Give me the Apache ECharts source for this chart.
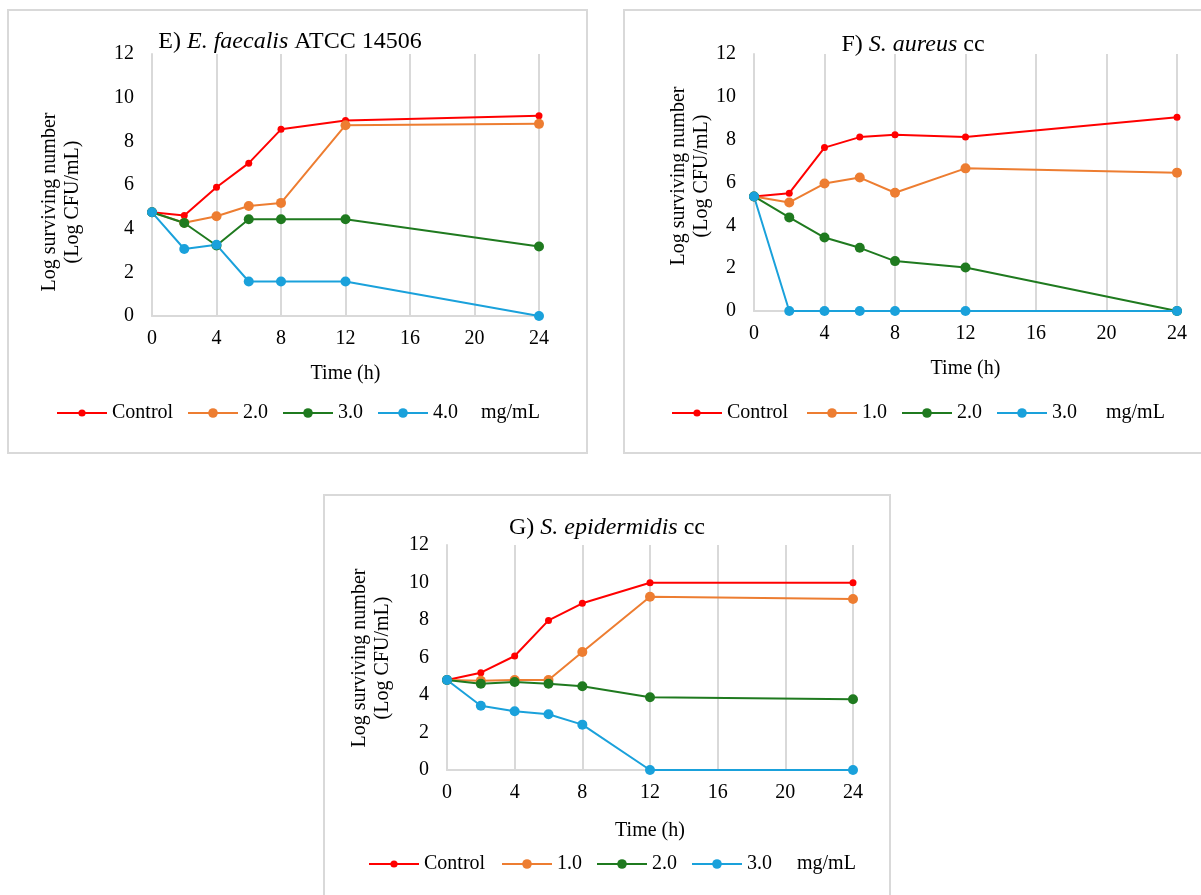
<!DOCTYPE html>
<html>
<head>
<meta charset="UTF-8">
<script src="https://cdn.jsdelivr.net/npm/echarts@6/dist/echarts.min.js"></script>
<style>
  html, body { margin: 0; padding: 0; background: #fff; }
  #main { width: 1201px; height: 895px; }
</style>
</head>
<body>
<div id="main"></div>
<script>
// sampling times (h), same for all panels
var times = [0, 2, 4, 6, 8, 12, 24];

// E) E. faecalis ATCC 14506
var eControl = [4.75, 4.6, 5.9, 7.0, 8.55, 8.95, 9.17];
var e20 = [4.75, 4.27, 4.57, 5.04, 5.18, 8.74, 8.8];
var e30 = [4.75, 4.26, 3.23, 4.43, 4.43, 4.43, 3.18];
var e40 = [4.75, 3.07, 3.26, 1.58, 1.58, 1.58, 0];

// F) S. aureus cc
var fControl = [5.35, 5.5, 7.63, 8.12, 8.23, 8.12, 9.05];
var f10 = [5.35, 5.07, 5.95, 6.23, 5.52, 6.66, 6.46];
var f20 = [5.35, 4.37, 3.43, 2.95, 2.33, 2.03, 0];
var f30 = [5.35, 0, 0, 0, 0, 0, 0];

// G) S. epidermidis cc
var gControl = [4.8, 5.19, 6.08, 7.98, 8.89, 9.99, 9.99];
var g10 = [4.8, 4.76, 4.8, 4.8, 6.29, 9.24, 9.12];
var g20 = [4.8, 4.6, 4.69, 4.6, 4.47, 3.88, 3.77];
var g30 = [4.8, 3.43, 3.13, 2.97, 2.42, 0, 0];

var RED = '#ff0000', ORANGE = '#ed7d31', GREEN = '#1f7a1f', BLUE = '#1aa1db';
var FONT = '"Liberation Serif", "Times New Roman", serif';
var GRAY = '#d9d9d9';
var FS = 20;

function pairs(vals) {
  return times.map(function (t, i) { return [t, vals[i]]; });
}

var panels = [
  {
    key: 'E',
    grid: { left: 152, top: 54, width: 387, height: 262 },
    box: [8, 10, 579, 443],
    title: { x: 290, y: 42, parts: ['E) ', 'E. faecalis', ' ATCC 14506'] },
    yname: [61, 202],
    nameGap: 48,
    legend: [56, 187, 403],
    unit: [481, 413],
    series: [['Control', eControl, RED], ['2.0', e20, ORANGE], ['3.0', e30, GREEN], ['4.0', e40, BLUE]]
  },
  {
    key: 'F',
    grid: { left: 754, top: 54, width: 423, height: 257 },
    box: [624, 10, 600, 443],
    title: { x: 913, y: 45, parts: ['F) ', 'S. aureus', ' cc'] },
    yname: [690, 176],
    nameGap: 48,
    legend: [671, 806, 403],
    unit: [1106, 413],
    series: [['Control', fControl, RED], ['1.0', f10, ORANGE], ['2.0', f20, GREEN], ['3.0', f30, BLUE]]
  },
  {
    key: 'G',
    grid: { left: 447, top: 545, width: 406, height: 225 },
    box: [324, 495, 566, 420],
    title: { x: 607, y: 528, parts: ['G) ', 'S. epidermidis', ' cc'] },
    yname: [371, 658],
    nameGap: 51,
    legend: [368, 501, 854],
    unit: [797, 864],
    series: [['Control', gControl, RED], ['1.0', g10, ORANGE], ['2.0', g20, GREEN], ['3.0', g30, BLUE]]
  }
];

var grids = [], xAxes = [], yAxes = [], legends = [], series = [], graphics = [];

panels.forEach(function (p, idx) {
  graphics.push({
    type: 'rect', z: -1,
    shape: { x: p.box[0], y: p.box[1], width: p.box[2], height: p.box[3] },
    style: { fill: null, stroke: GRAY, lineWidth: 2 }
  });
  graphics.push({
    type: 'text', x: p.title.x, y: p.title.y,
    style: {
      text: '{n|' + p.title.parts[0] + '}{i|' + p.title.parts[1] + '}{n|' + p.title.parts[2] + '}',
      align: 'center', verticalAlign: 'middle',
      rich: {
        n: { fontFamily: FONT, fontSize: 24, fill: '#000' },
        i: { fontFamily: FONT, fontSize: 24, fontStyle: 'italic', fill: '#000' }
      }
    }
  });
  graphics.push({
    type: 'text', x: p.yname[0], y: p.yname[1], rotation: Math.PI / 2,
    style: {
      text: 'Log surviving number\n(Log CFU/mL)',
      fontFamily: FONT, fontSize: FS, lineHeight: 23, fill: '#000',
      align: 'center', verticalAlign: 'middle'
    }
  });
  graphics.push({
    type: 'text', x: p.unit[0], y: p.unit[1],
    style: { text: 'mg/mL', fontFamily: FONT, fontSize: FS, fill: '#000', align: 'left', verticalAlign: 'middle' }
  });

  grids.push(p.grid);
  xAxes.push({
    type: 'value', gridIndex: idx, min: 0, max: 24, interval: 4,
    name: 'Time (h)', nameLocation: 'middle', nameGap: p.nameGap,
    nameTextStyle: { fontFamily: FONT, fontSize: FS, color: '#000' },
    axisLine: { lineStyle: { color: GRAY, width: 2 } },
    axisTick: { show: false },
    axisLabel: { fontFamily: FONT, fontSize: FS, color: '#000', margin: 13 },
    splitLine: { show: true, lineStyle: { color: GRAY, width: 2 } }
  });
  yAxes.push({
    type: 'value', gridIndex: idx, min: 0, max: 12, interval: 2,
    axisLine: { show: true, lineStyle: { color: GRAY, width: 2 } },
    axisTick: { show: false },
    axisLabel: { fontFamily: FONT, fontSize: FS, color: '#000', margin: 18 },
    splitLine: { show: false }
  });
  var names = [];
  p.series.forEach(function (s) {
    var nm = p.key + '|' + s[0];
    names.push(nm);
    series.push({
      name: nm, type: 'line', xAxisIndex: idx, yAxisIndex: idx,
      data: pairs(s[1]),
      symbol: 'circle', symbolSize: s[0] === 'Control' ? 7 : 10,
      color: s[2],
      lineStyle: { color: s[2], width: 2 },
      itemStyle: { color: s[2] },
      animation: false
    });
  });
  var fmt = function (n) { return n.split('|')[1]; };
  // Control legend entry has a smaller marker, so it gets its own legend
  legends.push({
    data: names.slice(0, 1), left: p.legend[0], top: p.legend[2],
    itemWidth: 50, itemHeight: 9, padding: 0,
    textStyle: { fontFamily: FONT, fontSize: FS, color: '#000' },
    formatter: fmt
  });
  legends.push({
    data: names.slice(1), left: p.legend[1], top: p.legend[2],
    itemWidth: 50, itemHeight: 12, itemGap: 14, padding: 0,
    textStyle: { fontFamily: FONT, fontSize: FS, color: '#000' },
    formatter: fmt
  });
});

var chart = echarts.init(document.getElementById('main'));
chart.setOption({
  animation: false,
  grid: grids,
  xAxis: xAxes,
  yAxis: yAxes,
  legend: legends,
  series: series,
  graphic: graphics
});
</script>
</body>
</html>
